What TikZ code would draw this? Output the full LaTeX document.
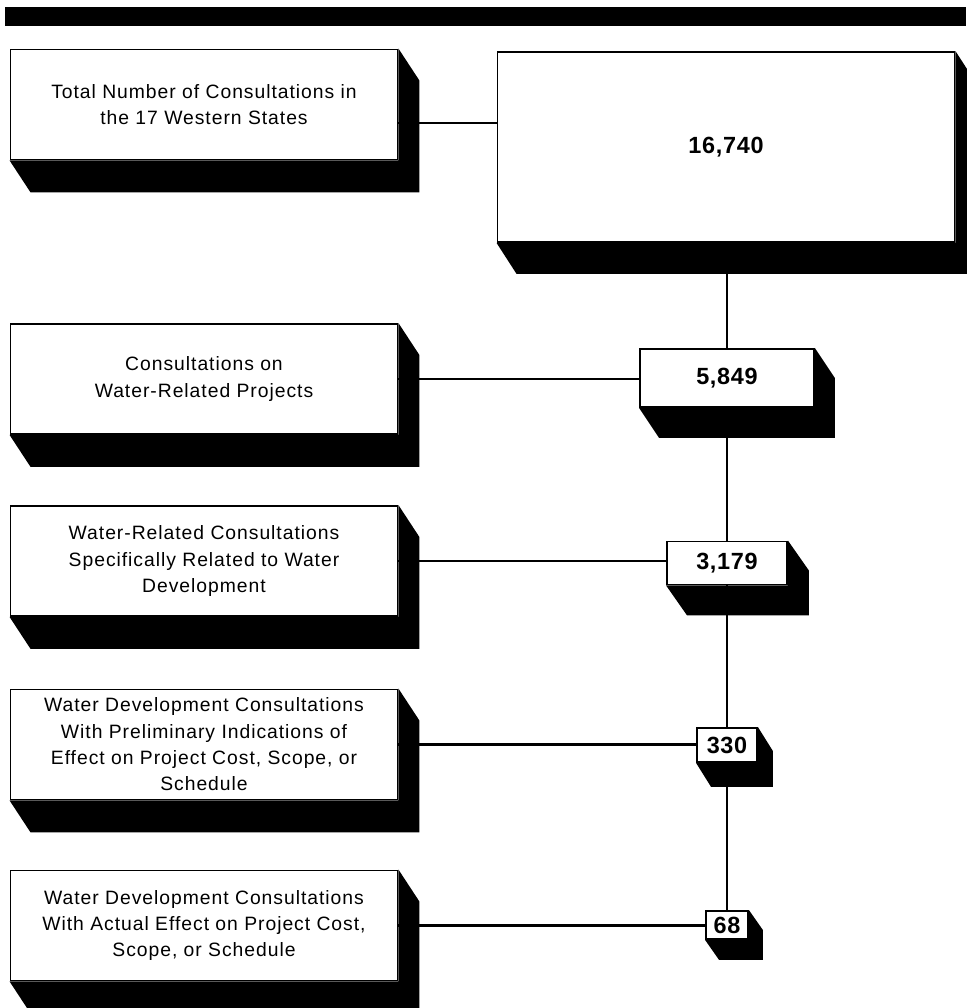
\documentclass[tikz,border=0pt]{standalone}
\usepackage{fontspec}
\setmainfont{Liberation Sans}[LetterSpace=5]
\newfontfamily\numfont{Liberation Sans}[LetterSpace=3]
\usetikzlibrary{calc,backgrounds}

\newlength\pxu
\setlength\pxu{0.03cm}
% black extrusion below and right of a box: node, dx, dy
\newcommand\shadebox[3]{%
  \fill (#1.north east) -- ++(#2,#3) -- ($(#1.south east)+(#2,#3)$)
    -- ($(#1.south west)+(#2,#3)$) -- (#1.south west) -- (#1.south east) -- cycle;}

\begin{document}
\begin{tikzpicture}[
    x=0.03cm, y=-0.03cm,
    font=\fontsize{16.5}{22.5}\selectfont,
    label/.style={
        draw,
        line width=1.6pt,
        fill=white,
        align=center,
        inner sep=0pt,
        minimum width=387*\pxu,
        minimum height=110*\pxu
    },
    count/.style={
        draw,
        line width=1.6pt,
        fill=white,
        inner sep=0pt,
        font=\numfont\fontsize{20}{22}\selectfont\bfseries
    },
    link/.style={line width=1.8pt}
]
\useasboundingbox (0,0) rectangle (966,1008);
\fill (5,7) rectangle (966,26);

\node[label] (lbl1) at (204,104.5) {Total Number of Consultations in\\the 17 Western States};
\node[label] (lbl2) at (204,379) {Consultations on\\Water-Related Projects};
\node[label] (lbl3) at (204,561) {Water-Related Consultations\\Specifically Related to Water\\Development};
\node[label] (lbl4) at (204,744.5) {Water Development Consultations\\With Preliminary Indications of\\Effect on Project Cost, Scope, or\\Schedule};
\node[label] (lbl5) at (204,925.5) {Water Development Consultations\\With Actual Effect on Project Cost,\\Scope, or Schedule};

\node[count, minimum width=457*\pxu, minimum height=190*\pxu] (tot) at (726,147) {16,740};
\node[count, minimum width=174*\pxu, minimum height=58*\pxu] (n1) at (727,378) {5,849};
\node[count, minimum width=120*\pxu, minimum height=43*\pxu] (n2) at (727,563) {3,179};
\node[count, minimum width=60*\pxu, minimum height=34*\pxu] (n3) at (727,745) {330};
\node[count, minimum width=42*\pxu, minimum height=28*\pxu] (n4) at (727,925) {68};

\coordinate (j1) at ($(lbl1.east)+(0,18.5)$);

\begin{scope}[on background layer]
\draw[link] (j1) -- (j1 -| tot.west);
\draw[link] (lbl2.east) -- (lbl2.east -| n1.west);
\draw[link] (lbl3.east) -- (lbl3.east -| n2.west);
\draw[link] (lbl4.east) -- (lbl4.east -| n3.west);
\draw[link] (lbl5.east) -- (lbl5.east -| n4.west);
\draw[link] (n1.north |- tot.south) -- (n1.north);
\draw[link] (n1.south) -- (n2.north);
\draw[link] (n2.south) -- (n3.north);
\draw[link] (n3.south) -- (n4.north);

\foreach \b in {lbl1,lbl2,lbl3,lbl4,lbl5} {\shadebox{\b}{21}{32}}
\shadebox{tot}{20}{31}
\shadebox{n1}{20}{30}
\shadebox{n2}{21}{30}
\shadebox{n3}{15}{24}
\shadebox{n4}{14}{20}
\end{scope}
\end{tikzpicture}
\end{document}
